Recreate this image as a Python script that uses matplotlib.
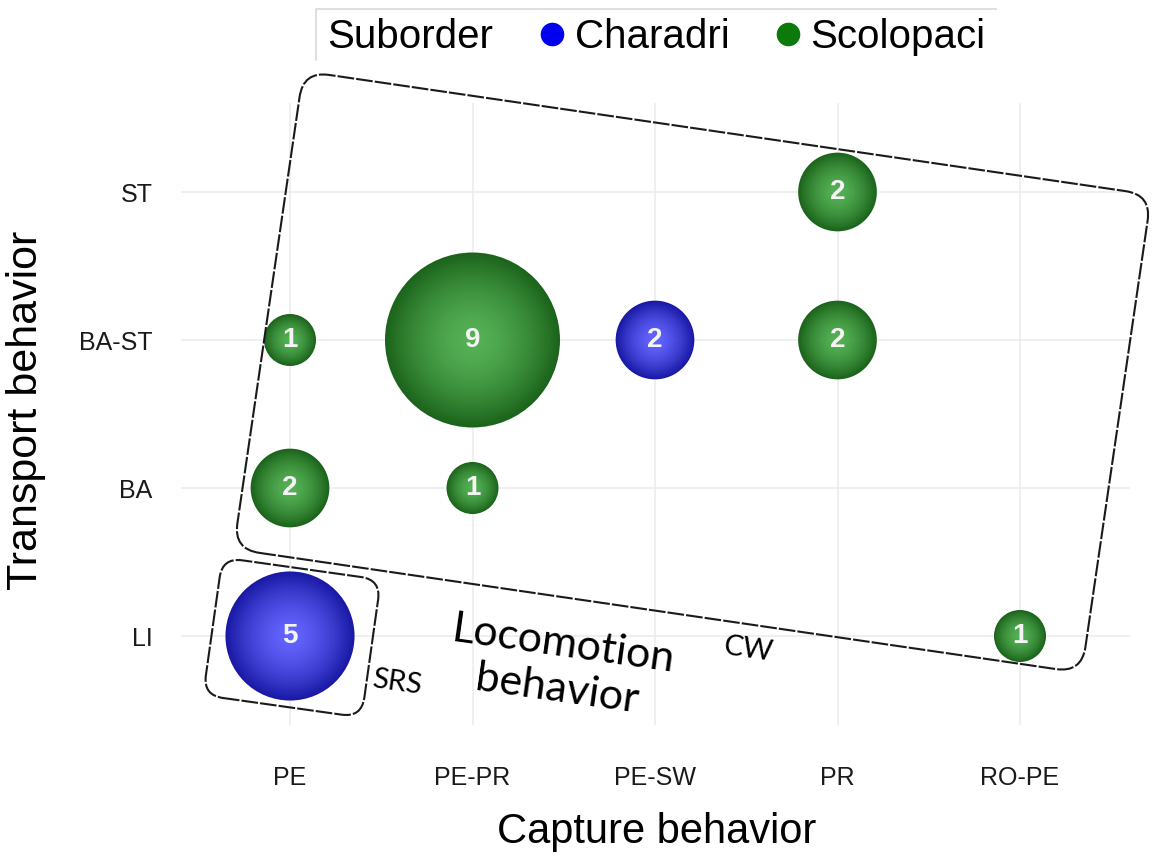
import numpy as np
import matplotlib
matplotlib.use('Agg')
import matplotlib.pyplot as plt
from matplotlib.patches import FancyBboxPatch
from matplotlib.lines import Line2D
from matplotlib.transforms import Affine2D

# Categorias de los ejes
capture_cats = ['PE', 'PE-PR', 'PE-SW', 'PR', 'RO-PE']
transport_cats = ['LI', 'BA', 'BA-ST', 'ST']

# Puntos (captura, transporte, numero de especies, suborden)
capture = ['PE', 'PE', 'PE', 'PE-PR', 'PE-PR', 'PE-SW', 'PR', 'PR', 'RO-PE']
transport = ['BA-ST', 'BA', 'LI', 'BA-ST', 'BA', 'BA-ST', 'ST', 'BA-ST', 'LI']
counts = [1, 2, 5, 9, 1, 2, 2, 2, 1]
suborder = ['Scolopaci', 'Scolopaci', 'Charadri', 'Scolopaci', 'Scolopaci',
            'Charadri', 'Scolopaci', 'Scolopaci', 'Scolopaci']

groups = ['Charadri', 'Scolopaci']
edge_col = {'Charadri': (25, 25, 165), 'Scolopaci': (28, 100, 28)}
center_col = {'Charadri': (100, 100, 255), 'Scolopaci': (85, 178, 85)}
legend_col = {'Charadri': '#0000ee', 'Scolopaci': '#0b7a0b'}

W, H = 1159, 864
fig = plt.figure(figsize=(W / 100, H / 100), dpi=100)
ax = fig.add_axes([180.5 / W, 139.2 / H, 949 / W, 621.6 / H])

xpos = np.array([capture_cats.index(c) for c in capture])
ypos = np.array([transport_cats.index(t) for t in transport])
n = np.array(counts)

# escala de area tipo ggplot: diametro^2 lineal en el valor
diam_px = np.sqrt(2704 + 3490 * (n - 1))
sizes = (diam_px * 0.72) ** 2

# burbujas con degradado radial (capas concentricas)
n_layers = 40
for g in groups:
    m = np.array([s == g for s in suborder])
    e = np.array(edge_col[g]) / 255
    c = np.array(center_col[g]) / 255
    for i in range(n_layers):
        frac = 1 - i / n_layers
        col = c + (e - c) * frac ** 1.6
        ax.scatter(xpos[m], ypos[m], s=sizes[m] * frac ** 2, color=col,
                   linewidths=0, zorder=3)

for x, y, v in zip(xpos, ypos, n):
    ax.text(x, y, str(v), ha='center', va='center', color='#f4f4f4',
            fontsize=20, fontweight='bold', family='Liberation Sans', zorder=5)

ax.set_xlim(-0.6, 4.6)
ax.set_ylim(-0.6, 3.6)
ax.set_xticks(range(len(capture_cats)))
ax.set_xticklabels(capture_cats)
ax.set_yticks(range(len(transport_cats)))
ax.set_yticklabels(transport_cats)
ax.grid(True, color='#ebebeb', linewidth=1.1)
ax.set_axisbelow(True)
for sp in ax.spines.values():
    sp.set_visible(False)
ax.tick_params(length=0, labelsize=18, colors='#1a1a1a')
ax.tick_params(axis='x', pad=30)
ax.tick_params(axis='y', pad=20)
for lab in ax.get_xticklabels() + ax.get_yticklabels():
    lab.set_family('Liberation Sans')

fig.text(657 / W, 1 - 832 / H, 'Capture behavior', ha='center', va='center',
         fontsize=30, family='Liberation Sans')
fig.text(26 / W, 1 - 410 / H, 'Transport behavior', ha='center', va='center',
         rotation=90, fontsize=31, family='Liberation Sans')

# leyenda arriba (solo borde superior e izquierdo)
fig.add_artist(Line2D([316 / W, 316 / W, 996 / W], [1 - 60 / H, 1 - 9 / H, 1 - 9 / H],
                      transform=fig.transFigure, color='#d9d9d9', linewidth=1.2))
fig.text(327 / W, 1 - 37 / H, 'Suborder', ha='left', va='center',
         fontsize=29, family='Liberation Sans')
handles = [Line2D([], [], marker='o', linestyle='', markersize=17,
                  markerfacecolor=legend_col[g], markeredgewidth=0, label=g)
           for g in groups]
fig.legend(handles=handles, loc='center left', bbox_to_anchor=(496 / W, 1 - 37 / H),
           frameon=False, ncol=2, handletextpad=0.05, columnspacing=0.95,
           handlelength=1.0, prop={'family': 'Liberation Sans', 'size': 29})

# cajas de comportamiento locomotor (rotadas)
def rotated_box(cx, cy, w, h, angle, rad):
    tr = Affine2D().rotate_deg_around(cx, cy, angle) + Affine2D().scale(1 / W, 1 / H) + fig.transFigure
    p = FancyBboxPatch((cx - w / 2, cy - h / 2), w, h,
                       boxstyle='round,pad=0,rounding_size=%d' % rad,
                       transform=tr, fill=False, edgecolor='#1a1a1a',
                       linewidth=1.5, linestyle=(0, (8, 1)), zorder=6)
    fig.add_artist(p)

rotated_box(692.5, H - 372, 857, 483, -8.3, 26)
rotated_box(292, H - 637.5, 160, 139, -8.0, 20)

fig.text(560 / W, 1 - 667 / H, 'Locomotion\nbehavior', ha='center', va='center',
         rotation=-8, rotation_mode='anchor', fontsize=31, family='Lato',
         linespacing=1.25)
fig.text(397 / W, 1 - 683 / H, 'SRS', ha='center', va='center', rotation=-8,
         rotation_mode='anchor', fontsize=21, family='Lato')
fig.text(748 / W, 1 - 650 / H, 'CW', ha='center', va='center', rotation=-8,
         rotation_mode='anchor', fontsize=21, family='Lato')

fig.savefig('out.png', dpi=100)
